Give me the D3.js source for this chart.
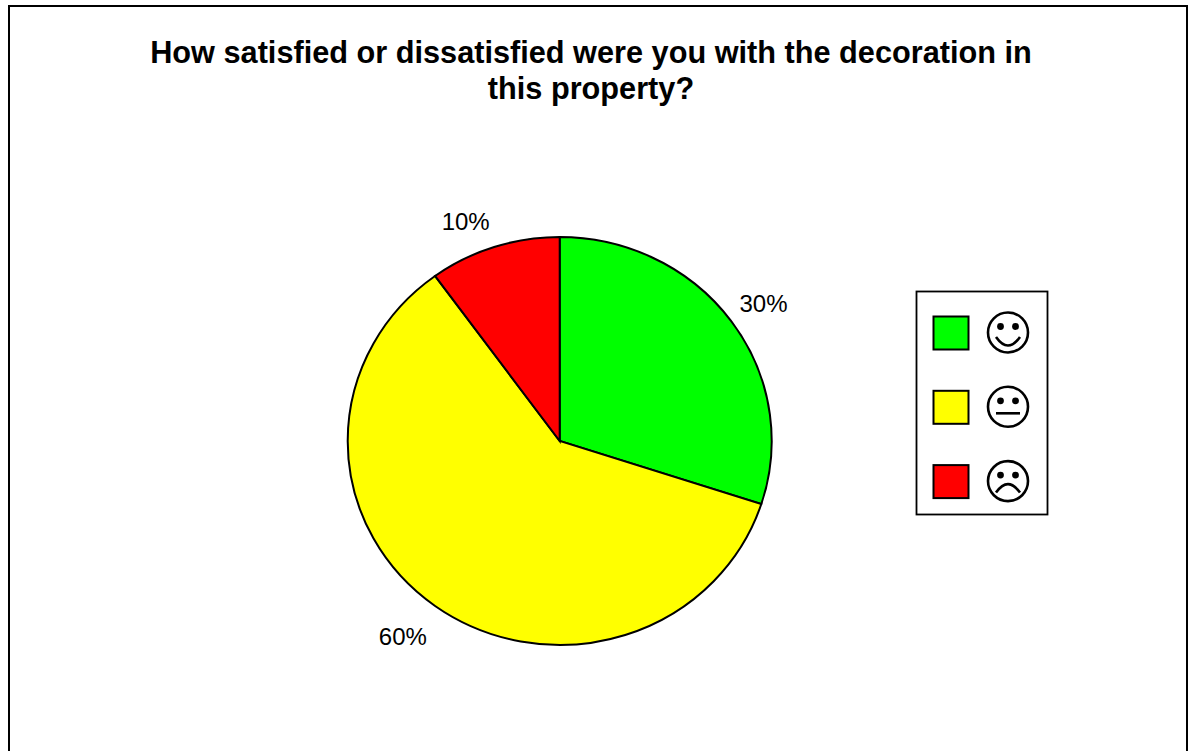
<!DOCTYPE html>
<html>
<head>
<meta charset="utf-8">
<script src="https://cdn.jsdelivr.net/npm/d3@7/dist/d3.min.js"></script>
<style>
html,body{margin:0;padding:0;background:#fff;overflow:hidden}
svg{display:block}
text{font-family:"Liberation Sans",Arial,sans-serif;fill:#000}
</style>
</head>
<body>
<svg id="c" width="1188" height="751"></svg>
<script>
const titleLines = ["How satisfied or dissatisfied were you with the decoration in", "this property?"];
const categories = ["satisfied", "neutral", "dissatisfied"];
const values = [30, 60, 10];
const colors = ["#00ff00", "#ffff00", "#ff0000"];
const mouthTypes = ["smile", "flat", "frown"];

const svg = d3.select("#c");
svg.append("path").attr("d", "M9 760V6H1187V760").attr("fill", "none").attr("stroke", "#000").attr("stroke-width", 2);

svg.append("g").selectAll("text").data(titleLines).join("text")
  .attr("x", 591).attr("y", (d, i) => 62.5 + i * 36)
  .attr("text-anchor", "middle").attr("font-size", 30.7).attr("font-weight", "bold")
  .text(d => d);

const cx = 559.7, cy = 441, rx = 212, ry = 204;
const pie = d3.pie().sort(null).value(d => d)(values);
const arc = d3.arc().innerRadius(0).outerRadius(1);
const pieG = svg.append("g").attr("transform", `translate(${cx},${cy}) scale(${rx},${ry})`);
pieG.selectAll("path").data(pie).join("path")
  .attr("d", arc).attr("fill", (d, i) => colors[i])
  .attr("stroke", "#000").attr("stroke-width", 2).attr("vector-effect", "non-scaling-stroke");

const labelNudgeX = [10, -16, -20];
const labelNudgeY = [-2, 10, 0];
const labelR = 1.13;
svg.append("g").selectAll("text").data(pie).join("text")
  .attr("x", (d, i) => cx + rx * labelR * Math.sin((d.startAngle + d.endAngle) / 2) + labelNudgeX[i])
  .attr("y", (d, i) => cy - ry * labelR * Math.cos((d.startAngle + d.endAngle) / 2) + 8 + labelNudgeY[i])
  .attr("text-anchor", "middle").attr("font-size", 24)
  .text(d => d.value + "%");

const legX = 916, legY = 291, rowH = 74.3;
svg.append("rect").attr("x", legX + .5).attr("y", legY + .5).attr("width", 131).attr("height", 223)
  .attr("fill", "#fff").attr("stroke", "#000").attr("stroke-width", 1.8);
const row = svg.append("g").selectAll("g").data(categories).join("g")
  .attr("transform", (d, i) => `translate(0,${legY + 42 + i * rowH})`);
row.append("rect").attr("x", 933.5).attr("y", -16.5).attr("width", 35).attr("height", 33)
  .attr("fill", (d, i) => colors[i]).attr("stroke", "#000").attr("stroke-width", 2);
const fx = 1008;
row.append("circle").attr("cx", fx).attr("cy", -0.5).attr("r", 20)
  .attr("fill", "#fff").attr("stroke", "#000").attr("stroke-width", 2.6);
row.append("circle").attr("cx", fx - 7.5).attr("cy", -6.5).attr("r", 3.4);
row.append("circle").attr("cx", fx + 7.5).attr("cy", -6.5).attr("r", 3.4);
const mouths = {
  smile: "M-12 4Q0 21 12 4",
  flat: "M-12 6H12",
  frown: "M-12 11Q0 -6 12 11"
};
row.append("path").attr("transform", `translate(${fx},0)`)
  .attr("d", (d, i) => mouths[mouthTypes[i]])
  .attr("fill", "none").attr("stroke", "#000").attr("stroke-width", 2.6);
</script>
</body>
</html>
